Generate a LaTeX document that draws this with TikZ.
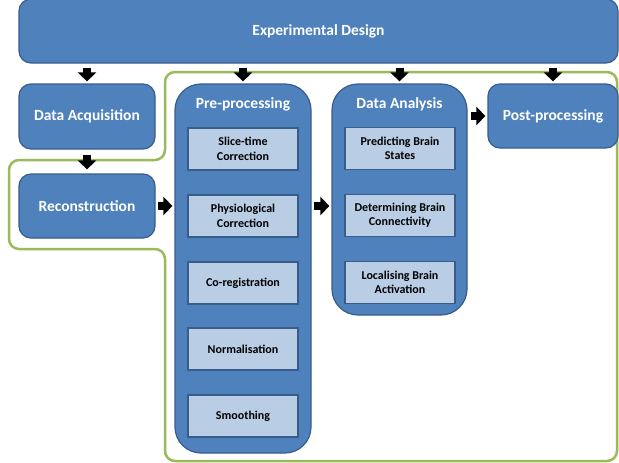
\documentclass[tikz,border=0pt]{standalone}
\usepackage{fontspec}
\setmainfont{Carlito}
\usetikzlibrary{arrows.meta}
\definecolor{boxblue}{HTML}{4F81BD}
\definecolor{boxline}{HTML}{385D8A}
\definecolor{subfill}{HTML}{B9CDE5}
\definecolor{outgreen}{HTML}{9BBB59}
\tikzset{
  mainbox/.style={draw=boxline, fill=boxblue, line width=1.2pt, rounded corners=12pt,
    text=white, font=\fontsize{15.5}{18}\selectfont\bfseries, align=center, inner sep=0pt},
  bigbox/.style={draw=boxline, fill=boxblue, line width=1.2pt, rounded corners=26pt, inner sep=0pt},
  titletext/.style={text=white, font=\fontsize{15.5}{18}\selectfont\bfseries, inner sep=0pt},
  subbox/.style={draw=boxline, fill=subfill, line width=1.2pt, minimum width=110pt, minimum height=42pt,
    text=black, font=\fontsize{12}{14.4}\selectfont\bfseries, align=center, inner sep=0pt},
  blockarrow/.style={line width=8pt, -{Triangle[length=9pt,width=18pt]}, black},
  greenline/.style={draw=outgreen, line width=2.5pt, rounded corners=10pt}
}
\begin{document}
\begin{tikzpicture}[x=1pt,y=-1pt]
\useasboundingbox (0,0) rectangle (619,463);
\clip (0,0) rectangle (619,463);
\fill[white] (0,0) rectangle (619,463);

% green outline
\draw[greenline] (165,160) -- (165,72) -- (617,72) -- (617,461) -- (165,461) -- (165,249) -- (9,249) -- (9,160) -- cycle;

\node[mainbox, minimum width=599pt, minimum height=64pt] (ed) at (318.5,31) {Experimental Design};
\node[mainbox, minimum width=136pt, minimum height=65pt] (acq) at (87,116.5) {Data Acquisition};
\node[mainbox, minimum width=136pt, minimum height=64pt] (rec) at (87,206) {Reconstruction};
\node[bigbox, minimum width=136pt, minimum height=369pt] (pre) at (243,268.5) {};
\node[titletext] (pretitle) at (243,104) {Pre-processing};
\node[bigbox, minimum width=135pt, minimum height=231pt] (da) at (399.5,199.5) {};
\node[titletext] (datitle) at (399.5,104) {Data Analysis};
\node[mainbox, minimum width=130pt, minimum height=64pt] (post) at (553,116) {Post-processing};

\node[subbox] (s1) at (243,149) {Slice-time\\Correction};
\node[subbox] (s2) at (243,216) {Physiological\\Correction};
\node[subbox] (s3) at (243,283) {Co-registration};
\node[subbox] (s4) at (243,349) {Normalisation};
\node[subbox] (s5) at (243,416) {Smoothing};

\node[subbox] (d1) at (400,148.5) {Predicting Brain\\States};
\node[subbox] (d2) at (400,215.5) {Determining Brain\\Connectivity};
\node[subbox] (d3) at (400,282.5) {Localising Brain\\Activation};

% arrows
\draw[blockarrow, shorten <=4pt, shorten >=2pt] (acq.north |- ed.south) -- (acq.north);
\draw[blockarrow, shorten <=4pt, shorten >=2pt] (pre.north |- ed.south) -- (pre.north);
\draw[blockarrow, shorten <=4pt, shorten >=2pt] (da.north |- ed.south) -- (da.north);
\draw[blockarrow, shorten <=4pt, shorten >=2pt] (post.north |- ed.south) -- (post.north);
\draw[blockarrow, shorten <=5pt, shorten >=4pt] (acq.south) -- (rec.north);
\draw[blockarrow, shorten <=2pt, shorten >=2pt] (rec.east) -- (rec.east -| pre.west);
\draw[blockarrow, shorten <=2pt, shorten >=2pt] (pre.east |- rec.east) -- (da.west |- rec.east);
\draw[blockarrow, shorten <=3pt, shorten >=2pt] (da.east |- post.west) -- (post.west);
\end{tikzpicture}
\end{document}
